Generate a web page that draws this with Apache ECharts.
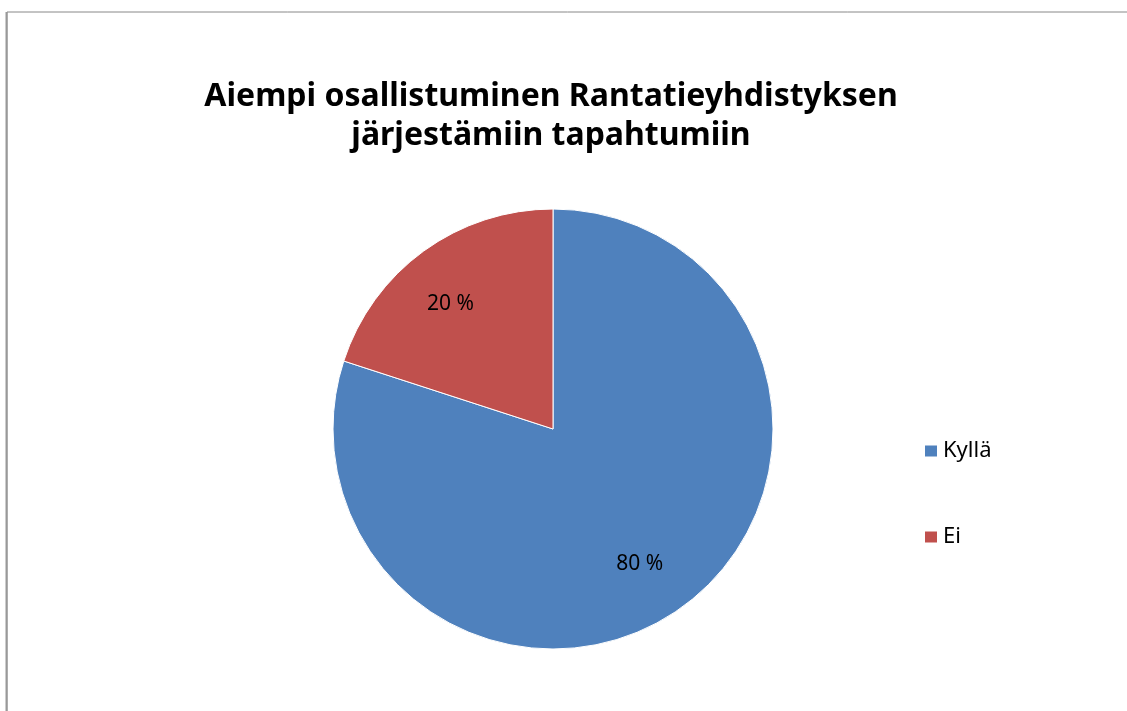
<!DOCTYPE html>
<html>
<head>
<meta charset="utf-8">
<script src="https://cdn.jsdelivr.net/npm/echarts@6/dist/echarts.min.js"></script>
<style>
  html, body { margin: 0; padding: 0; background: #fff; }
  #chart { width: 1127px; height: 711px; }
</style>
</head>
<body>
<div id="chart"></div>
<script>
// vastaukset
const categories = ['Kyllä', 'Ei'];
const values = [80, 20];
const colors = ['#4f81bd', '#c0504d'];

const pieData = categories.map((name, i) => ({ name: name, value: values[i] }));

const chart = echarts.init(document.getElementById('chart'));
chart.setOption({
  animation: false,
  color: colors,
  title: {
    text: 'Aiempi osallistuminen Rantatieyhdistyksen\njärjestämiin tapahtumiin',
    left: 546,
    top: 72,
    textAlign: 'center',
    textStyle: {
      fontFamily: 'Noto Sans',
      fontWeight: 'bold',
      fontSize: 32,
      lineHeight: 39,
      color: '#000'
    }
  },
  legend: {
    orient: 'vertical',
    left: 918,
    top: 435,
    icon: 'rect',
    itemWidth: 14,
    itemHeight: 13,
    itemGap: 64,
    textStyle: { fontFamily: 'Noto Sans', fontSize: 22, color: '#000' },
    data: categories
  },
  graphic: [
    {
      type: 'rect',
      shape: { x: 7, y: 12, width: 1300, height: 900 },
      style: { fill: 'none', stroke: '#888', lineWidth: 1 },
      silent: true
    },
    {
      type: 'line',
      shape: { x1: 6.5, y1: 12, x2: 6.5, y2: 711 },
      style: { stroke: '#999', lineWidth: 2 },
      silent: true
    }
  ],
  series: [
    {
      type: 'pie',
      center: [553, 429],
      radius: 220,
      startAngle: 90,
      clockwise: true,
      label: { show: false },
      labelLine: { show: false },
      itemStyle: { borderColor: '#fff', borderWidth: 1 },
      emphasis: { disabled: true },
      data: pieData
    },
    {
      // näkymätön rengas, jolla prosenttiluvut saadaan oikealle kohdalle
      type: 'pie',
      center: [553, 429],
      radius: [96, 220],
      startAngle: 90,
      clockwise: true,
      silent: true,
      legendHoverLink: false,
      itemStyle: { color: 'rgba(0,0,0,0)' },
      label: {
        show: true,
        position: 'inside',
        offset: [-8, 5],
        formatter: p => p.value + ' %',
        fontFamily: 'Noto Sans',
        fontSize: 21,
        color: '#000'
      },
      labelLine: { show: false },
      emphasis: { disabled: true },
      data: pieData
    }
  ]
});
</script>
</body>
</html>
